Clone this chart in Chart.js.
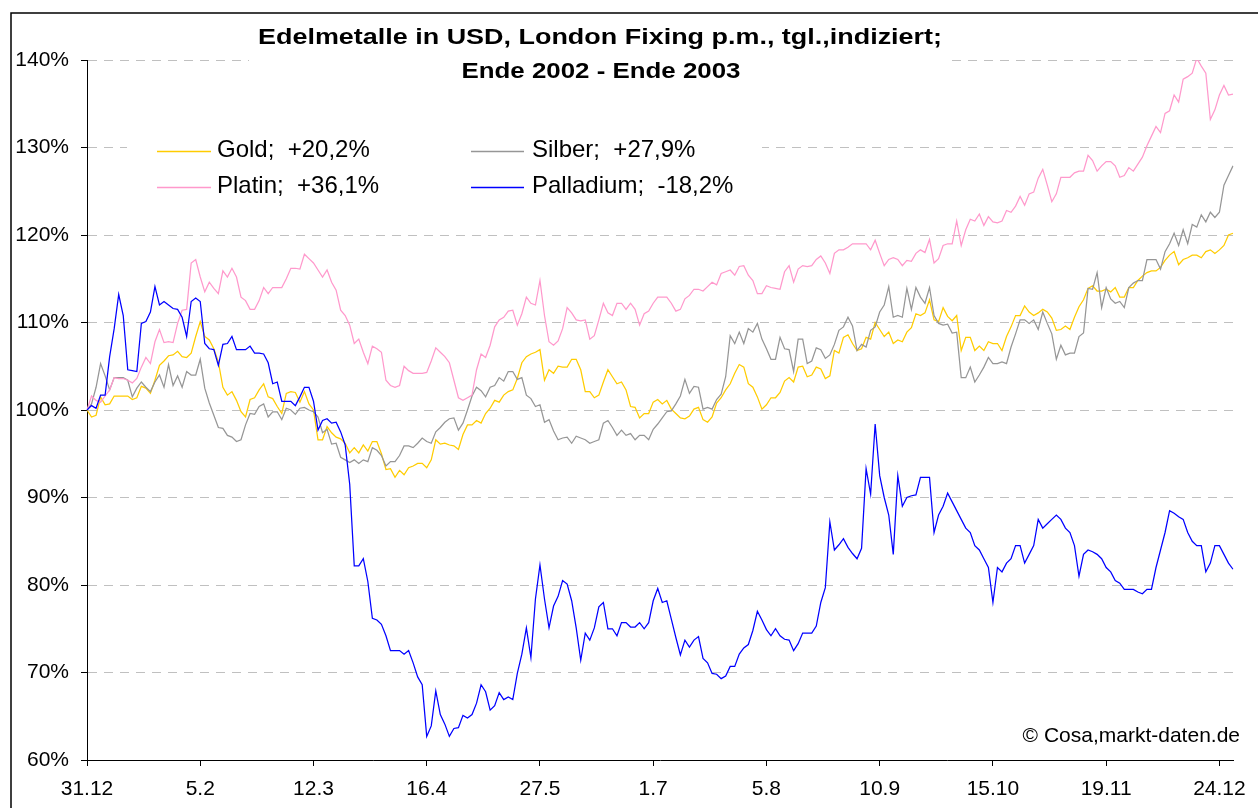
<!DOCTYPE html>
<html><head><meta charset="utf-8">
<script src="https://cdn.jsdelivr.net/npm/chart.js@4/dist/chart.umd.min.js"></script>
<style>html,body{margin:0;padding:0;background:#fff;}#wrap{width:1258px;height:808px;position:relative;}</style>
</head><body><div id="wrap"><canvas id="c" width="1258" height="808"></canvas></div>
<script>
const tickLabels = ['31.12','5.2','12.3','16.4','27.5','1.7','5.8','10.9','15.10','19.11','24.12'];
const tickEvery = 25;
const titleLines = ['Edelmetalle in USD, London Fixing p.m., tgl.,indiziert;', 'Ende 2002 - Ende 2003'];
const seriesNames = ['Gold;  +20,2%', 'Silber;  +27,9%', 'Platin;  +36,1%', 'Palladium;  -18,2%'];
const credit = '\u00A9 Cosa,markt-daten.de';

const gold = [100,99.2,99.4,101.5,100.6,100.7,101.6,101.6,101.6,101.6,
101.2,101.4,102.7,102.5,101.9,103.4,105.1,105.6,106.2,106.3,
106.7,106.1,106,106.5,108.4,110.1,108.4,108,107,105.5,
102.6,101.7,102.1,101.1,99.8,99.2,101.2,101.4,102.3,103,
101.5,101.3,100.4,99.6,101.9,102.1,102,100.9,102.1,100.7,
100,96.6,96.6,98.1,97.4,96.9,96.7,96.2,95.1,95.7,
95.1,96,95.3,96.4,96.4,95,93.2,93.3,92.3,93.1,
92.6,93.4,93.6,93.9,93.9,93.4,94.3,96.6,96.1,96.2,
96,95.9,95.5,97.2,98.3,98.3,98.8,98.5,99.6,100.2,
101.1,100.9,101.7,102.1,102.3,103.6,105.4,106.1,106.4,106.6,
106.9,103.4,104.6,104.2,105,104.9,104.9,105.8,105.8,104.6,
102.1,102.1,101.4,101.7,103.2,104.6,103.8,103,103.2,102.3,
100.4,100.3,99.1,99.6,99.6,100.9,101.2,100.7,101.1,100.1,
99.6,99.1,99,99.3,100.1,100.3,98.9,98.6,99.2,100.8,
101.4,102.3,103,104.2,105.2,104.9,103,102.6,101.5,100.1,
100.6,101.4,101.4,102,103.3,103.7,103.2,104.9,105,103.8,
104,104.9,104.7,103.6,103.9,106.8,106.5,108.3,108.6,107.6,
106.8,107,108.3,108.1,110,109.2,108.4,108.9,107.6,108,
107.8,108.9,109.4,111,110.8,111.1,112.6,110.3,110.1,111.7,
110.7,110.2,110.8,106.8,108.3,108.3,106.8,107.3,106.8,107.8,
107.6,107.6,106.8,108.4,109.5,110.8,110.8,111.9,111.2,110.8,
111.1,111.5,111.2,110.5,109.1,109.2,109.6,109.2,110.6,111.8,
112.6,113.9,114.2,113.6,113.6,113.8,113.5,114,112.9,112.9,
114,114,114.8,115.3,115.7,115.9,115.9,116.3,117.1,117.7,
118.1,116.6,117.2,117.4,117.7,117.7,117.4,118.1,118.3,117.9,
118.3,118.8,120,120.2];

const silber = [100,100.7,102.6,105.3,103.9,102.3,103.7,103.7,103.7,103.4,
101.5,102.5,103.2,102.6,102.1,103.2,104,102.6,105.2,102.8,
103.9,102.6,104.4,104,104,105.8,102.5,100.8,99.4,98,
97.9,97.1,96.9,96.4,96.6,98.3,99.6,99.5,100.4,100.7,
99.2,99.8,99.8,98.9,100.2,100,99.5,100.2,100.3,100,
99.8,99.2,97.4,97.8,96.1,96.2,94.6,94.3,94,94.3,
93.9,94.3,94.1,95.7,95.4,94.8,93.6,94.1,94.1,94.8,
95.9,95.9,95.7,96.2,96.8,96.4,96.2,97.5,98,98.6,
99,99.1,97.7,98.5,100,101.6,102.6,102.2,101.5,102.6,
102.8,103.7,103.3,104.4,104.4,103.5,103.7,101.7,101.3,100.4,
100.6,98.6,98.9,97.6,96.6,96.8,96.9,96.2,97,96.8,
96.6,96.2,96.4,96.6,98.5,98.8,98,97.1,97.7,97.1,
97.3,96.6,97.1,97.1,96.6,97.8,98.4,99.1,99.8,99.9,
100.7,101.6,103.5,101.9,102.7,102.6,100.1,100.3,100.1,101.2,
101.8,103.8,108.5,107.6,108.9,107.6,109.3,108.9,109.9,108.1,
107,105.8,105.8,108.3,107,106.9,104.4,108.1,108.1,105.3,
105.6,107.1,106.9,105.9,106.3,107.5,109.1,109.5,110.6,109.6,
106.8,107.5,107.2,109.1,109.5,111.2,112,114.1,110.6,110.8,
110.6,113.9,111.5,114,112.9,112.2,114,110.8,109.9,109.7,
109.8,108.8,108.9,103.7,103.7,104.9,103.2,104,104.9,106,
105.3,105.3,105.5,105.3,107.2,108.7,110.3,110.3,109.9,110.3,
109.2,111.2,109.9,108.7,105.8,107.4,106.3,106.5,106.5,108.4,
108.8,113.9,113.8,115.7,111.7,114,112.7,112.2,112.4,111.7,
114,114.5,114.8,114.8,117.2,117.2,117.2,116.1,118.1,119,
120.2,118.8,120.6,119,121.2,120.9,122.3,121.5,122.6,122,
122.6,125.7,126.8,127.9];

const platin = [100,101.6,101.1,100.9,101.6,102.3,103.7,103.6,103.6,103.4,
103.1,103.6,104.9,106,105.3,107.8,109.2,107.7,107.8,107.7,
109.9,111.4,111.5,116.8,117.2,115.2,113.5,114.6,113.9,113.3,
115.9,115.2,116.2,115.2,112.9,112.5,111.5,111.5,112.5,114,
113.3,114,114,114,115,116.2,116.2,116.1,117.8,117.3,
116.8,116,115.2,116,114.6,113.7,111.4,110.8,109.7,107.6,
108.1,106.6,105.3,107.3,107,106.6,103.4,102.8,102.6,102.8,
105,104.5,104.2,104.2,104.2,104.3,105.6,107.1,106.6,106.1,
105.4,103.4,101.4,101.1,101.4,101.7,104.6,106.4,106,107.4,
109.5,110.3,110.6,111.3,111.4,109.7,111,112.9,112.2,112,
114.8,110.8,107.8,107.4,107.9,109.3,111.7,111.1,110.3,110.2,
110.3,108.1,108.5,110.3,112.2,111.1,110.8,112.2,112.2,111.5,
112.2,111.5,109.7,111,111.3,112.2,112.9,112.9,112.9,112.2,
111.3,111.5,112.7,113.1,113.8,113.8,113.6,114.1,114.6,114.3,
115.6,115.8,116,115.4,116.4,116.5,115.4,114.8,113.3,113.3,
114.2,114,113.9,113.8,115.8,116.5,114.6,116.1,116.5,116.4,
116.5,117.2,117.6,116.8,115.6,117.9,118.3,118.3,118.6,119,
119,119,119,118.3,119.4,117.9,116.5,117.2,117.4,117.2,
116.5,117.1,117,117.9,118.3,118,119.5,116.8,117.3,118.8,
119,119,121.6,118.8,120.6,121.8,121.6,122.4,121.1,122.1,
121.5,121.4,121.6,122.8,122.6,123.3,124.4,123.4,124.7,124.9,
126.5,127.5,125.7,123.8,124.7,126.6,126.6,126.6,127.1,127.3,
127.3,129.1,128.5,127.3,127.9,128.4,128.4,127.9,126.6,126.8,
127.7,127.3,128.1,128.9,130.2,131.3,132.4,131.7,133.9,134.2,
136,135.2,137.8,138.1,138.5,140.2,139.3,138.5,133.2,134.3,
136,137.1,136,136.1];

const palladium = [100,100.5,100.2,101.7,101.7,106.1,109.3,113.2,110.8,104.6,
104.5,104.4,109.9,110.1,111.2,114.1,112,112.4,112,111.6,
111.5,110.6,108.4,112.4,112.8,112.4,107.6,107,106.9,105.1,
107.5,107.6,108.4,106.9,106.9,106.9,107.3,106.5,106.5,106.4,
105.4,103,103.2,101,101,101,100.5,101.5,102.6,102.6,
101,97.7,98.8,99,98.5,98.6,97.5,96,91.5,82.2,
82.2,83,80.4,76.2,76,75.5,74.2,72.5,72.5,72.5,
72.1,72.5,71.1,69.5,68.6,62.7,63.9,67.9,65.2,64.1,
62.7,63.6,63.7,65.1,64.8,65.2,66.5,68.6,67.8,65.7,
66.2,67.7,66.9,67.2,66.9,69.9,72.1,75.1,71.7,78.4,
82.3,78.4,75.1,77.6,78.7,80.5,80.1,78.2,75.1,71.4,
74.5,73.7,75.1,77.5,78,75,75,74.2,75.7,75.7,
75.2,75.2,75.7,75,75.7,78.2,79.6,78,78.2,76.1,
74,72,73.7,72.9,73.7,74.1,71.6,71.1,69.9,69.8,
69.3,69.6,70.7,70.7,72.1,72.8,73.2,74.8,77,76,
74.9,74.2,75,74.2,73.8,73.7,72.5,73.3,74.5,74.5,
74.5,75.3,78,79.7,87.2,84,84.6,85.3,84.3,83.6,
83,84.2,93.3,90.4,98.4,92.5,90,88,83.5,92.5,
89,90,90.2,90.3,92.3,92.3,92.3,86,88,89,
90.5,89.5,88.5,87.5,86.5,86,84.5,84,83,82,
78,82,81.5,82.5,83,84.5,84.5,82.5,83.5,84.5,
87.5,86.5,87,87.5,88,87.5,86.5,86,84.5,81,
83.5,84,83.8,83.5,83,82,81.5,80.5,80.2,79.5,
79.5,79.5,79.2,79,79.5,79.5,82,84,86,88.5,
88.2,87.8,87.5,86,85,84.5,84.5,81.5,82.5,84.5,
84.5,83.5,82.5,81.8];

const categories = gold.map((_, i) => i);
const seriesColors = ['#FFCC00', '#969696', '#FF99CC', '#0000FF'];
const FONT = '"Liberation Sans", Arial, Helvetica, sans-serif';

function drawFitted(c, text, cx, y, targetW) {
  c.save();
  const w = c.measureText(text).width;
  const s = targetW / w;
  c.translate(cx, y);
  c.scale(s, 1);
  c.textAlign = 'center';
  c.textBaseline = 'alphabetic';
  c.fillText(text, 0, 0);
  c.restore();
}

const decor = {
  id: 'decor',
  beforeDatasetsDraw(chart) {
    const c = chart.ctx;
    c.save();
    c.fillStyle = '#ffffff';
    c.fillRect(249, 15, 700, 70);
    c.fillRect(127, 118, 635, 96);
    c.restore();
  },
  afterDraw(chart) {
    const c = chart.ctx;
    c.save();
    c.strokeStyle = '#000';
    c.lineWidth = 1.5;
    c.strokeRect(11, 13, 1400, 1000);
    c.fillStyle = '#000';
    c.font = 'bold 22.5px ' + FONT;
    drawFitted(c, titleLines[0], 600, 43.5, 684);
    drawFitted(c, titleLines[1], 601, 77.5, 279);
    // legend
    const leg = [
      [157, 211, 151.5, 217, 157, 0],
      [471, 524, 151.5, 532, 157, 1],
      [157, 211, 187.5, 217, 193, 2],
      [471, 524, 187.5, 532, 193, 3]
    ];
    c.font = '24px ' + FONT;
    c.textAlign = 'left';
    c.textBaseline = 'alphabetic';
    leg.forEach(([x1, x2, ly, tx, ty, k]) => {
      c.strokeStyle = seriesColors[k];
      c.lineWidth = 1.6;
      c.beginPath(); c.moveTo(x1, ly); c.lineTo(x2, ly); c.stroke();
      c.fillStyle = '#000';
      c.fillText(seriesNames[k], tx, ty);
    });
    c.font = '21px ' + FONT;
    c.textAlign = 'right';
    c.fillText(credit, 1240, 742);
    c.restore();
  }
};

const mk = (i, data, order) => ({
  label: seriesNames[i], data, borderColor: seriesColors[i], backgroundColor: seriesColors[i],
  borderWidth: 1.25, pointRadius: 0, tension: 0, fill: false, order
});

new Chart(document.getElementById('c').getContext('2d'), {
  type: 'line',
  data: {
    labels: categories,
    datasets: [mk(0, gold, 3), mk(1, silber, 2), mk(2, platin, 1), mk(3, palladium, 0)]
  },
  options: {
    responsive: false, animation: false, devicePixelRatio: 1,
    layout: { padding: { left: 0, right: 25, top: 60, bottom: 0 } },
    plugins: { legend: { display: false }, title: { display: false }, tooltip: { enabled: false } },
    scales: {
      x: {
        type: 'category', offset: false,
        grid: {
          display: true, drawOnChartArea: false, drawTicks: true, tickLength: 6, lineWidth: 1,
          color: c => (c.tick && c.tick.value % tickEvery === 0) ? '#000' : 'rgba(0,0,0,0)'
        },
        border: { display: true, color: '#000', width: 1 },
        ticks: {
          autoSkip: false, maxRotation: 0, minRotation: 0, padding: 11, color: '#000',
          font: { family: FONT, size: 21 },
          callback: (v, i) => (i % tickEvery === 0 ? tickLabels[i / tickEvery] : '')
        },
        afterFit: s => { s.height = 48; }
      },
      y: {
        min: 60, max: 140,
        ticks: { stepSize: 10, padding: 12, color: '#000', font: { family: FONT, size: 21 }, callback: v => v + '%' },
        grid: {
          lineWidth: 1, tickLength: 6, tickColor: '#000',
          color: c => (c.tick && c.tick.value === 60) ? 'rgba(0,0,0,0)' : '#C0C0C0'
        },
        border: { display: true, color: '#000', width: 1, dash: [9, 7] },
        afterFit: s => { s.width = 87; }
      }
    }
  },
  plugins: [decor]
});
</script>
</body></html>
